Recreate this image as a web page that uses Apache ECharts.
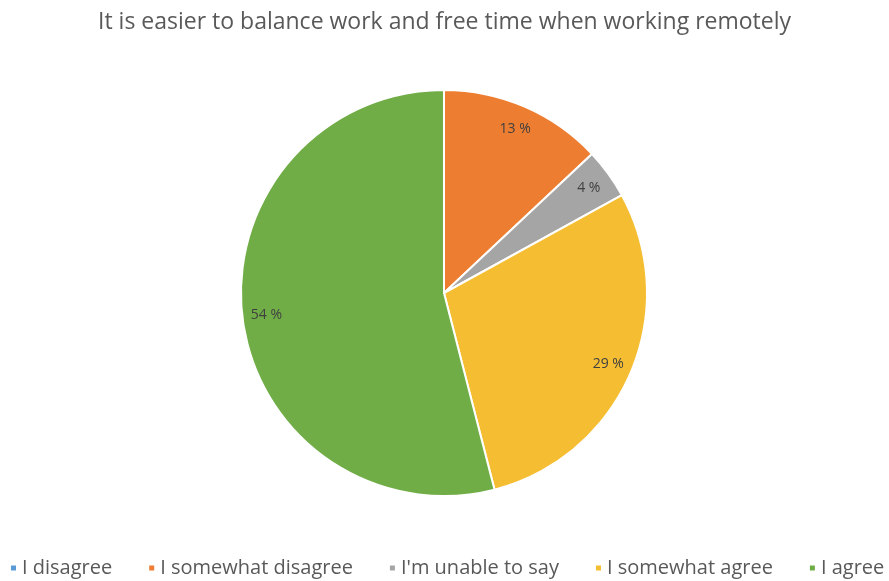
<!DOCTYPE html>
<html>
<head>
<meta charset="utf-8">
<script src="https://cdn.jsdelivr.net/npm/echarts@6/dist/echarts.min.js"></script>
<style>
  html, body { margin: 0; padding: 0; background: #ffffff; }
  #chart { width: 889px; height: 581px; }
</style>
</head>
<body>
<div id="chart"></div>
<script>
// Survey answers, in percent
const categories = ['I disagree', 'I somewhat disagree', "I'm unable to say", 'I somewhat agree', 'I agree'];
const shares = [0, 13, 4, 29, 54];
const palette = ['#5B9BD5', '#ED7D31', '#A5A5A5', '#F5BE32', '#70AD47'];
const titleText = 'It is easier to balance work and free time when working remotely';

const font = '"Open Sans", "Liberation Sans", sans-serif';

const sliceData = categories.map((name, i) => ({
  name,
  value: shares[i],
  itemStyle: { color: palette[i] }
}));

// A transparent ring carrying the value labels near the rim
const labelData = categories.map((name, i) => ({
  name,
  value: shares[i],
  label: { show: shares[i] > 0 }
}));

const chart = echarts.init(document.getElementById('chart'), null, { renderer: 'canvas' });
chart.setOption({
  animation: false,
  backgroundColor: '#ffffff',
  title: {
    text: titleText,
    left: 'center',
    top: 6,
    textStyle: { fontFamily: font, fontSize: 23, fontWeight: 'normal', color: '#595959' }
  },
  legend: {
    data: categories,
    top: 558,
    left: 9,
    width: 880,
    padding: 0,
    icon: 'rect',
    itemWidth: 7,
    itemHeight: 7,
    itemGap: 35,
    textStyle: { fontFamily: font, fontSize: 20, color: '#595959' }
  },
  series: [
    {
      type: 'pie',
      center: [444, 293],
      radius: [0, 203],
      startAngle: 90,
      clockwise: true,
      silent: true,
      label: { show: false },
      labelLine: { show: false },
      itemStyle: { borderColor: '#ffffff', borderWidth: 2 },
      data: sliceData
    },
    {
      type: 'pie',
      center: [444, 293],
      radius: [166, 186],
      startAngle: 90,
      clockwise: true,
      silent: true,
      legendHoverLink: false,
      itemStyle: { color: 'transparent' },
      labelLine: { show: false },
      label: {
        position: 'inside',
        formatter: '{c} %',
        fontFamily: font,
        fontSize: 14,
        color: '#404040'
      },
      data: labelData
    }
  ]
});
</script>
</body>
</html>
